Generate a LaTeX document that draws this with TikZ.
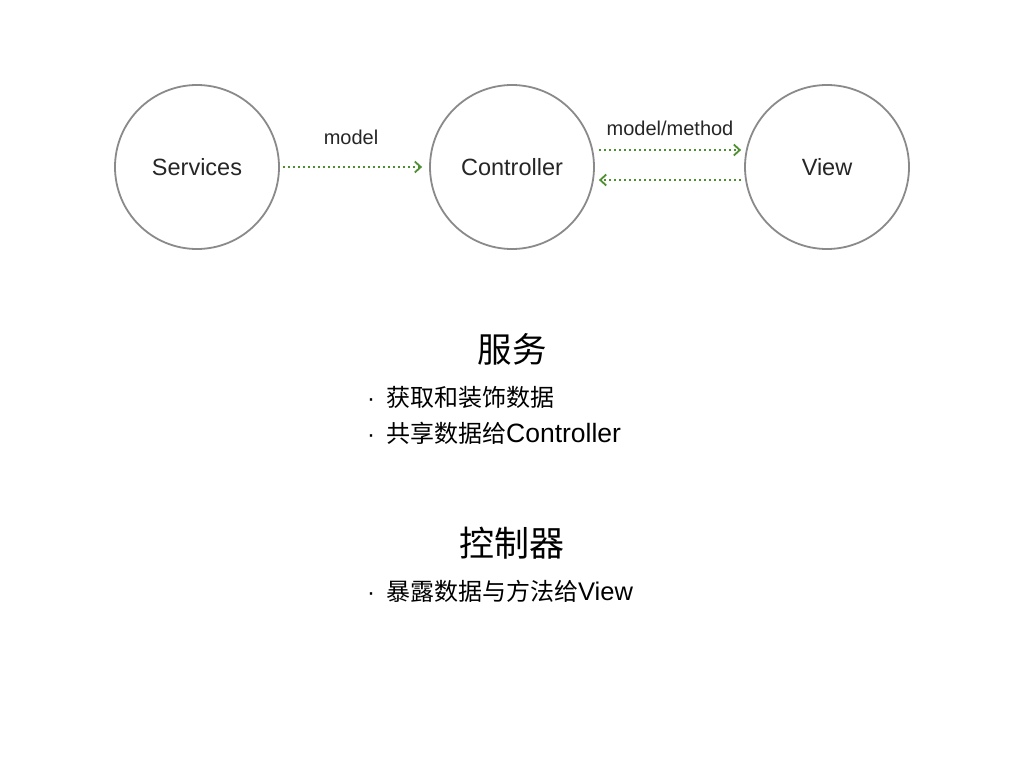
\documentclass[tikz,border=0pt]{standalone}
\usepackage{fontspec}
\setmainfont{Liberation Sans}
\newfontfamily\cjk{Noto Sans CJK SC}
\usetikzlibrary{arrows.meta}
\definecolor{ringgray}{HTML}{8A8A8A}
\definecolor{flowgreen}{HTML}{4E8F32}
\begin{document}
\begin{tikzpicture}[x=1pt,y=-1pt,
  ring/.style={circle,draw=ringgray,line width=1.8pt,minimum size=164pt,inner sep=0pt,font=\fontsize{23.5}{26}\selectfont,text=black!85},
  flow/.style={draw=flowgreen,line width=1.8pt,dash pattern=on 1.8pt off 3.2pt,-{Straight Barb[length=6pt,width=11pt,line width=1.8pt]}},
  lbl/.style={font=\fontsize{20}{23}\selectfont,text=black!85,inner sep=0pt},
  head/.style={font=\cjk\fontsize{34.5}{38}\selectfont,inner sep=0pt},
  item/.style={font=\fontsize{24}{27}\selectfont,anchor=west,inner sep=0pt},
  lat/.style={}]
\useasboundingbox (0,0) rectangle (1024,768);
\fill[white] (0,0) rectangle (1024,768);
\node[ring] (svc) at (197,167) {Services};
\node[ring] (ctl) at (512,167) {Controller};
\node[ring] (view) at (827,167) {View};
\draw[flow] ([xshift=3pt]svc.east) -- ([xshift=-7pt]ctl.west);
\draw[flow] ([xshift=4pt]ctl.east |- 0,150) -- ([xshift=-3pt]view.west |- 0,150);
\draw[flow] ([xshift=-3pt]view.west |- 0,180) -- ([xshift=4pt]ctl.east |- 0,180);
\node[lbl] (m1) at (351,137) {model};
\node[lbl] (m2) at (670,128) {model/method};
\node[head] (h1) at (512,349) {服务};
\node[item] (i1) at (367,397) {·\hspace{11pt}{\cjk 获取和装饰数据}};
\node[item] (i2) at (367,433) {·\hspace{11pt}{\cjk 共享数据给}{\fontsize{26.5}{27}\selectfont Controller}};
\node[head,font=\cjk\fontsize{35}{38}\selectfont] (h2) at (512,543) {控制器};
\node[item] (i3) at (367,591) {·\hspace{11pt}{\cjk 暴露数据与方法给}{\fontsize{25.5}{27}\selectfont View}};
\end{tikzpicture}
\end{document}
